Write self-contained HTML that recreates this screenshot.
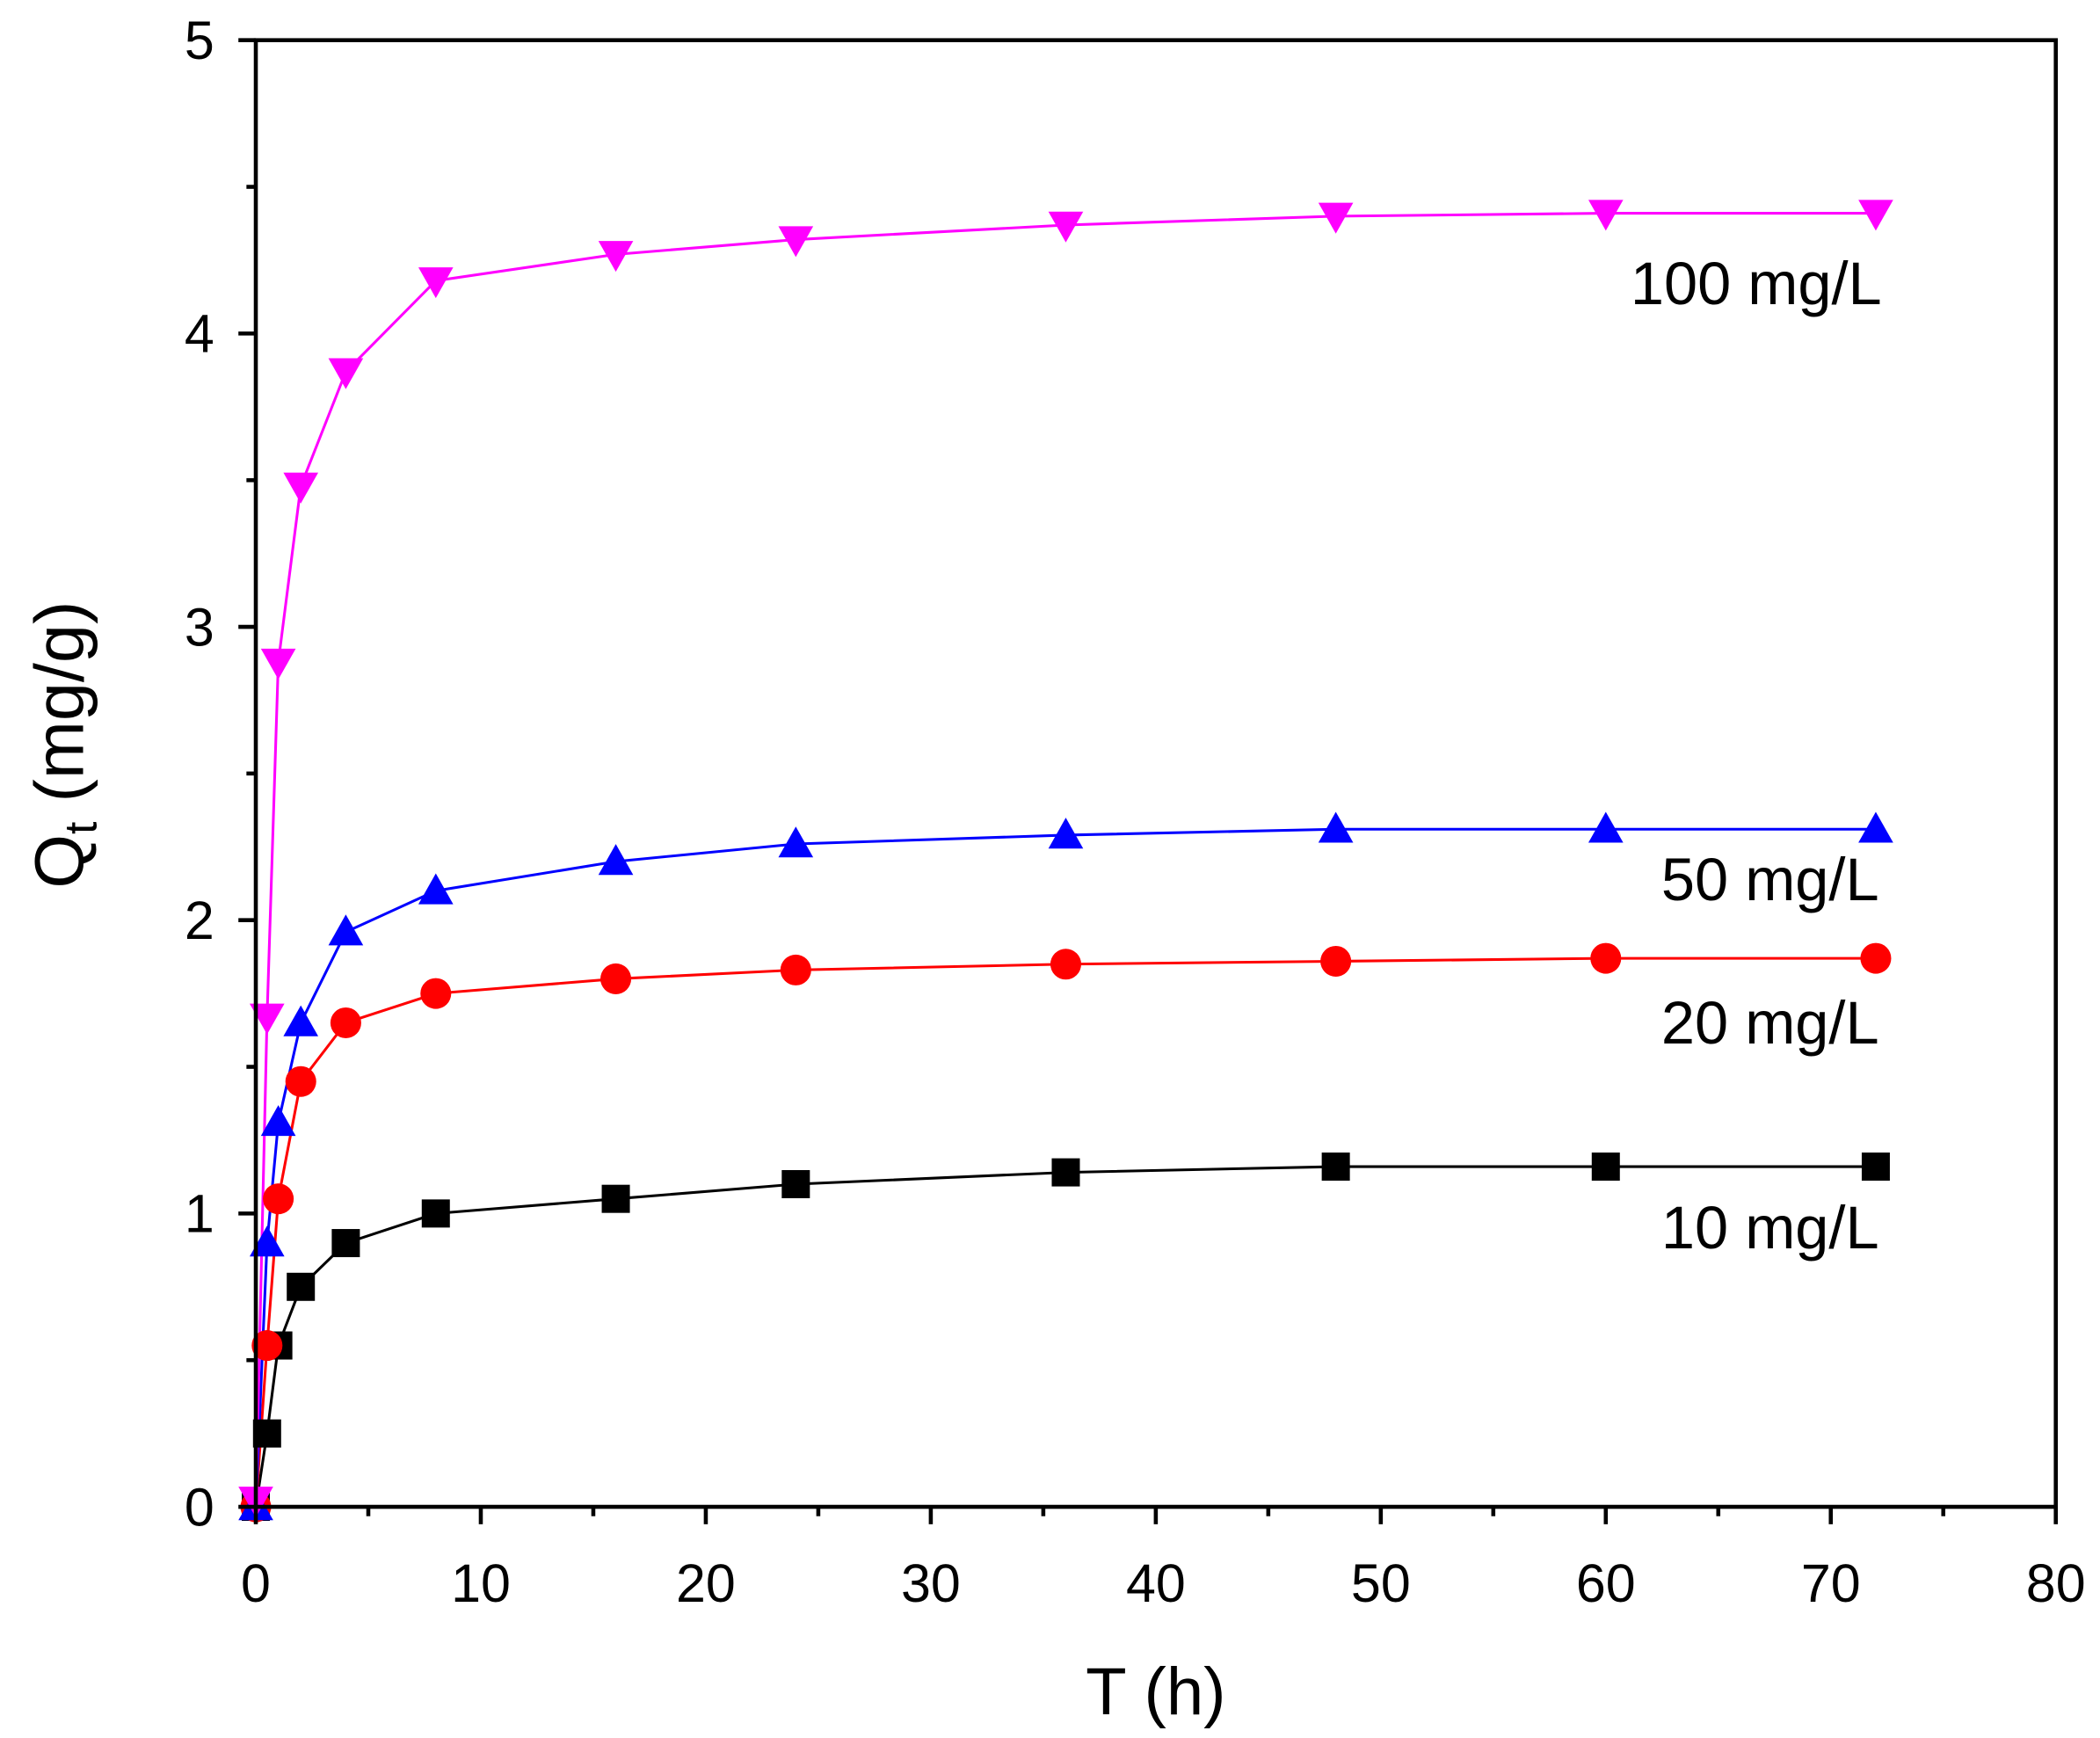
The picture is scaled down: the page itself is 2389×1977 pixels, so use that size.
<!DOCTYPE html>
<html><head><meta charset="utf-8"><style>html,body{margin:0;padding:0;background:#fff}svg{display:block}</style></head>
<body>
<svg width="2389" height="1977" viewBox="0 0 1568 1297.6" xmlns="http://www.w3.org/2000/svg" xmlns:xlink="http://www.w3.org/1999/xlink" font-family="Liberation Sans, Arial, sans-serif">
<defs>
<rect id="sq" x="-10.5" y="-10.5" width="21" height="21" fill="#000"/>
<circle id="ci" r="11.5" fill="#ff0000"/>
<polygon id="up" points="-13,10 13,10 0,-13" fill="#0000ff"/>
<polygon id="dn" points="-13,-10 13,-10 0,13" fill="#ff00ff"/>
</defs>
<rect width="1568" height="1298" fill="#fff"/>

<polyline fill="none" stroke="#000" stroke-width="2" points="191,1125 199.4,1070.25 207.8,1004.55 224.6,960.75 258.2,928.1 325.4,906 459.8,895.05 594.2,884.1 795.8,875.3 997.4,871 1199,871 1400.6,871"/>
<polyline fill="none" stroke="#ff0000" stroke-width="2" points="191,1125 199.4,1004.55 207.8,895.05 224.6,807.45 258.2,763.65 325.4,741.75 459.8,730.8 594.2,724.2 795.8,719.85 997.4,717.7 1199,715.5 1400.6,715.5"/>
<polyline fill="none" stroke="#0000ff" stroke-width="2" points="191,1125 199.4,928.1 207.8,838.1 224.6,763.65 258.2,695.8 325.4,665.1 459.8,643.2 594.2,630.1 795.8,623.5 997.4,619.1 1199,619.1 1400.6,619.1"/>
<polyline fill="none" stroke="#ff00ff" stroke-width="2" points="191,1125 199.4,759.3 207.8,494.3 224.6,362.9 258.2,277.5 325.4,209.6 459.8,189.9 594.2,178.9 795.8,168 997.4,161.4 1199,159.2 1400.6,159.2"/>

<use xlink:href="#sq" x="191" y="1125"/><use xlink:href="#sq" x="199.4" y="1070.25"/><use xlink:href="#sq" x="207.8" y="1004.55"/><use xlink:href="#sq" x="224.6" y="960.75"/><use xlink:href="#sq" x="258.2" y="928.1"/><use xlink:href="#sq" x="325.4" y="906"/><use xlink:href="#sq" x="459.8" y="895.05"/><use xlink:href="#sq" x="594.2" y="884.1"/><use xlink:href="#sq" x="795.8" y="875.3"/><use xlink:href="#sq" x="997.4" y="871"/><use xlink:href="#sq" x="1199" y="871"/><use xlink:href="#sq" x="1400.6" y="871"/>

<use xlink:href="#ci" x="191" y="1125"/><use xlink:href="#ci" x="199.4" y="1004.55"/><use xlink:href="#ci" x="207.8" y="895.05"/><use xlink:href="#ci" x="224.6" y="807.45"/><use xlink:href="#ci" x="258.2" y="763.65"/><use xlink:href="#ci" x="325.4" y="741.75"/><use xlink:href="#ci" x="459.8" y="730.8"/><use xlink:href="#ci" x="594.2" y="724.2"/><use xlink:href="#ci" x="795.8" y="719.85"/><use xlink:href="#ci" x="997.4" y="717.7"/><use xlink:href="#ci" x="1199" y="715.5"/><use xlink:href="#ci" x="1400.6" y="715.5"/>

<use xlink:href="#up" x="191" y="1125"/><use xlink:href="#up" x="199.4" y="928.1"/><use xlink:href="#up" x="207.8" y="838.1"/><use xlink:href="#up" x="224.6" y="763.65"/><use xlink:href="#up" x="258.2" y="695.8"/><use xlink:href="#up" x="325.4" y="665.1"/><use xlink:href="#up" x="459.8" y="643.2"/><use xlink:href="#up" x="594.2" y="630.1"/><use xlink:href="#up" x="795.8" y="623.5"/><use xlink:href="#up" x="997.4" y="619.1"/><use xlink:href="#up" x="1199" y="619.1"/><use xlink:href="#up" x="1400.6" y="619.1"/>

<use xlink:href="#dn" x="191" y="1120"/><use xlink:href="#dn" x="199.4" y="759.3"/><use xlink:href="#dn" x="207.8" y="494.3"/><use xlink:href="#dn" x="224.6" y="362.9"/><use xlink:href="#dn" x="258.2" y="277.5"/><use xlink:href="#dn" x="325.4" y="209.6"/><use xlink:href="#dn" x="459.8" y="189.9"/><use xlink:href="#dn" x="594.2" y="178.9"/><use xlink:href="#dn" x="795.8" y="168"/><use xlink:href="#dn" x="997.4" y="161.4"/><use xlink:href="#dn" x="1199" y="159.2"/><use xlink:href="#dn" x="1400.6" y="159.2"/>

<rect x="191" y="30" width="1344" height="1095" fill="none" stroke="#000" stroke-width="3"/>
<g stroke="#000" stroke-width="3">
<line x1="191" y1="1125" x2="191" y2="1138"/><line x1="275" y1="1125" x2="275" y2="1132"/>
<line x1="359" y1="1125" x2="359" y2="1138"/><line x1="443" y1="1125" x2="443" y2="1132"/>
<line x1="527" y1="1125" x2="527" y2="1138"/><line x1="611" y1="1125" x2="611" y2="1132"/>
<line x1="695" y1="1125" x2="695" y2="1138"/><line x1="779" y1="1125" x2="779" y2="1132"/>
<line x1="863" y1="1125" x2="863" y2="1138"/><line x1="947" y1="1125" x2="947" y2="1132"/>
<line x1="1031" y1="1125" x2="1031" y2="1138"/><line x1="1115" y1="1125" x2="1115" y2="1132"/>
<line x1="1199" y1="1125" x2="1199" y2="1138"/><line x1="1283" y1="1125" x2="1283" y2="1132"/>
<line x1="1367" y1="1125" x2="1367" y2="1138"/><line x1="1451" y1="1125" x2="1451" y2="1132"/>
<line x1="1535" y1="1125" x2="1535" y2="1138"/>
<line x1="178" y1="1125" x2="191" y2="1125"/><line x1="184" y1="1015.5" x2="191" y2="1015.5"/>
<line x1="178" y1="906" x2="191" y2="906"/><line x1="184" y1="796.5" x2="191" y2="796.5"/>
<line x1="178" y1="687" x2="191" y2="687"/><line x1="184" y1="577.5" x2="191" y2="577.5"/>
<line x1="178" y1="468" x2="191" y2="468"/><line x1="184" y1="358.5" x2="191" y2="358.5"/>
<line x1="178" y1="249" x2="191" y2="249"/><line x1="184" y1="139.5" x2="191" y2="139.5"/>
<line x1="178" y1="30" x2="191" y2="30"/>
</g>
<g font-size="40" text-anchor="middle" fill="#000">
<text x="191" y="1196">0</text><text x="359" y="1196">10</text><text x="527" y="1196">20</text><text x="695" y="1196">30</text>
<text x="863" y="1196">40</text><text x="1031" y="1196">50</text><text x="1199" y="1196">60</text><text x="1367" y="1196">70</text><text x="1535" y="1196">80</text>
</g>
<g font-size="40" text-anchor="end" fill="#000">
<text x="160" y="1139">0</text><text x="160" y="920">1</text><text x="160" y="701">2</text><text x="160" y="482">3</text><text x="160" y="263">4</text><text x="160" y="44">5</text>
</g>
<text x="863" y="1280" font-size="50" text-anchor="middle">T (h)</text>
<text transform="translate(62,556) rotate(-90)" font-size="52" text-anchor="middle">Q<tspan font-size="34" dy="10">t</tspan><tspan dy="-10"> (mg/g)</tspan></text>
<g font-size="45" text-anchor="end">
<text x="1405" y="227">100 mg/L</text><text x="1403" y="672">50 mg/L</text><text x="1403" y="779">20 mg/L</text><text x="1403" y="932">10 mg/L</text>
</g>
</svg>
</body></html>
